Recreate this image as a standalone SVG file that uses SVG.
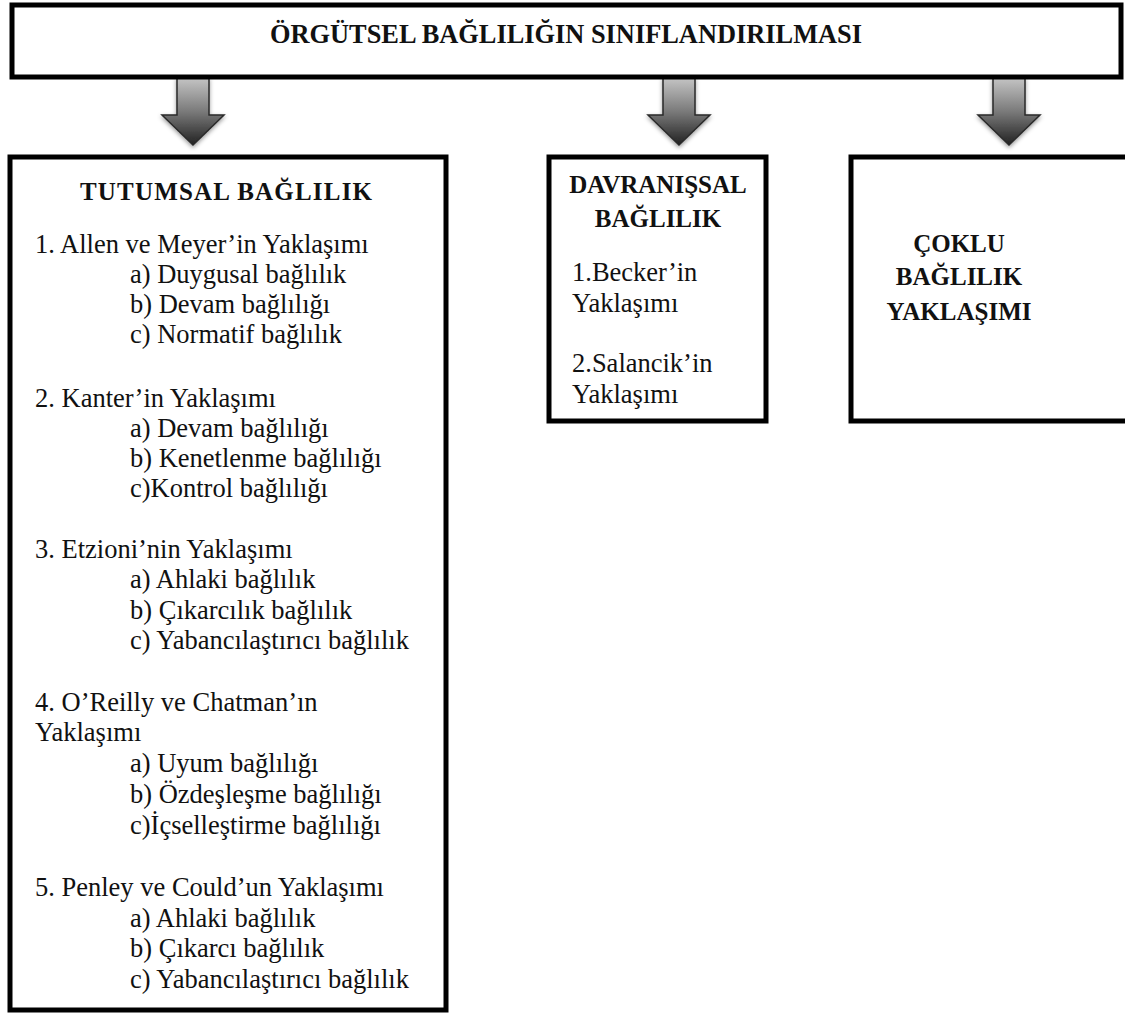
<svg xmlns="http://www.w3.org/2000/svg" width="1125" height="1016" viewBox="0 0 1125 1016">
  <style>
    .box { fill: #ffffff; stroke: #000000; stroke-width: 5; }
    .t { font-family: "Liberation Serif", "Times New Roman", serif; font-size: 26.5px; fill: #111111; }
    .b { font-family: "Liberation Serif", "Times New Roman", serif; font-size: 25px; font-weight: bold; fill: #111111; }
    .title { font-family: "Liberation Serif", "Times New Roman", serif; font-size: 27px; font-weight: bold; fill: #111111; }
    .arrow { fill: url(#arrowGrad); stroke: #2a2a2a; stroke-width: 1.5; filter: url(#shadow); }
  </style>
  <defs>
    <linearGradient id="arrowGrad" x1="0" y1="0" x2="0" y2="1">
      <stop offset="0" stop-color="#c4c4c4"/>
      <stop offset="0.5" stop-color="#7a7a7a"/>
      <stop offset="1" stop-color="#222222"/>
    </linearGradient>
    <filter id="shadow" x="-30%" y="-10%" width="160%" height="130%">
      <feDropShadow dx="0" dy="2" stdDeviation="2" flood-color="#000000" flood-opacity="0.4"/>
    </filter>
  </defs>

  <g id="connectors">
    <path class="arrow" d="M177,78 L209,78 L209,115 L224,115 L193,145 L162,115 L177,115 Z"/>
    <path class="arrow" d="M663,78 L695,78 L695,115 L710,115 L679,145 L648,115 L663,115 Z"/>
    <path class="arrow" d="M993,78 L1025,78 L1025,115 L1040,115 L1009,145 L978,115 L993,115 Z"/>
  </g>

  <g id="root">
    <rect class="box" x="12" y="5" width="1109" height="72"/>
    <text class="title" x="566" y="43" text-anchor="middle" textLength="592" lengthAdjust="spacingAndGlyphs">ÖRGÜTSEL BAĞLILIĞIN SINIFLANDIRILMASI</text>
  </g>

  <g id="tutumsal">
    <rect class="box" x="10" y="157" width="436" height="853"/>
    <text class="b" x="226" y="200" text-anchor="middle" textLength="292" lengthAdjust="spacing">TUTUMSAL BAĞLILIK</text>
    <text class="t" x="35" y="253">1. Allen ve Meyer’in Yaklaşımı</text>
    <text class="t" x="130" y="283">a) Duygusal bağlılık</text>
    <text class="t" x="130" y="313">b) Devam bağlılığı</text>
    <text class="t" x="130" y="343">c) Normatif bağlılık</text>
    <text class="t" x="35" y="407">2. Kanter’in Yaklaşımı</text>
    <text class="t" x="130" y="437">a) Devam bağlılığı</text>
    <text class="t" x="130" y="467">b) Kenetlenme bağlılığı</text>
    <text class="t" x="130" y="497">c)Kontrol bağlılığı</text>
    <text class="t" x="35" y="558">3. Etzioni’nin Yaklaşımı</text>
    <text class="t" x="130" y="588">a) Ahlaki bağlılık</text>
    <text class="t" x="130" y="619">b) Çıkarcılık bağlılık</text>
    <text class="t" x="130" y="649">c) Yabancılaştırıcı bağlılık</text>
    <text class="t" x="35" y="711">4. O’Reilly ve Chatman’ın</text>
    <text class="t" x="35" y="741">Yaklaşımı</text>
    <text class="t" x="130" y="772">a) Uyum bağlılığı</text>
    <text class="t" x="130" y="803">b) Özdeşleşme bağlılığı</text>
    <text class="t" x="130" y="834">c)İçselleştirme bağlılığı</text>
    <text class="t" x="35" y="896">5. Penley ve Could’un Yaklaşımı</text>
    <text class="t" x="130" y="927">a) Ahlaki bağlılık</text>
    <text class="t" x="130" y="957">b) Çıkarcı bağlılık</text>
    <text class="t" x="130" y="988">c) Yabancılaştırıcı bağlılık</text>
  </g>

  <g id="davranissal">
    <rect class="box" x="549" y="157" width="217" height="264"/>
    <text class="b" x="658" y="193" text-anchor="middle">DAVRANIŞSAL</text>
    <text class="b" x="658" y="227" text-anchor="middle">BAĞLILIK</text>
    <text class="t" x="572" y="281">1.Becker’in</text>
    <text class="t" x="572" y="312">Yaklaşımı</text>
    <text class="t" x="572" y="372">2.Salancik’in</text>
    <text class="t" x="572" y="403">Yaklaşımı</text>
  </g>

  <g id="coklu">
    <rect class="box" x="851" y="157" width="290" height="264"/>
    <text class="b" x="959" y="252" text-anchor="middle">ÇOKLU</text>
    <text class="b" x="959" y="285" text-anchor="middle">BAĞLILIK</text>
    <text class="b" x="959" y="320" text-anchor="middle">YAKLAŞIMI</text>
  </g>
</svg>
